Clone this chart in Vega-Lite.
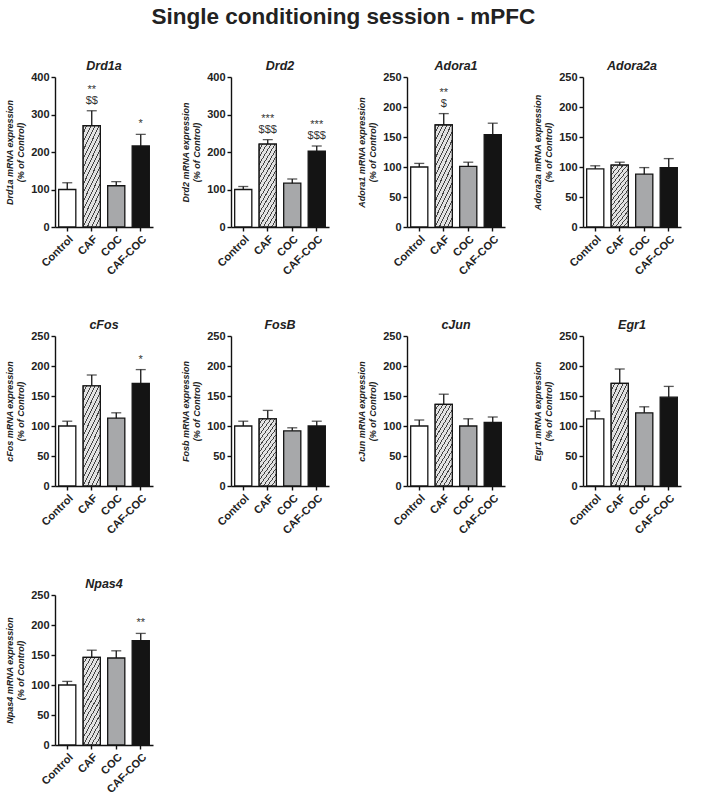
{
  "$schema": "https://vega.github.io/schema/vega-lite/v6.json",
  "title": {"text": "Single conditioning session - mPFC", "fontSize": 22.5, "fontWeight": "bold", "fontStyle": "normal", "font": "Liberation Sans", "color": "#222222", "anchor": "middle", "offset": 31},
  "padding": {"left": 5, "top": 6, "right": 5, "bottom": 5},
  "data": {"values": [
    {"gene": "Drd1a", "group": "Control", "mean": 100, "upper": 118, "top": "", "bottom": ""},
    {"gene": "Drd1a", "group": "CAF", "mean": 270, "upper": 310, "top": "**", "bottom": "$$"},
    {"gene": "Drd1a", "group": "COC", "mean": 110, "upper": 121, "top": "", "bottom": ""},
    {"gene": "Drd1a", "group": "CAF-COC", "mean": 216, "upper": 247, "top": "", "bottom": "*"},
    {"gene": "Drd2", "group": "Control", "mean": 100, "upper": 108, "top": "", "bottom": ""},
    {"gene": "Drd2", "group": "CAF", "mean": 221, "upper": 233, "top": "***", "bottom": "$$$"},
    {"gene": "Drd2", "group": "COC", "mean": 117, "upper": 128, "top": "", "bottom": ""},
    {"gene": "Drd2", "group": "CAF-COC", "mean": 202, "upper": 216, "top": "***", "bottom": "$$$"},
    {"gene": "Adora1", "group": "Control", "mean": 100, "upper": 106, "top": "", "bottom": ""},
    {"gene": "Adora1", "group": "CAF", "mean": 170, "upper": 189, "top": "**", "bottom": "$"},
    {"gene": "Adora1", "group": "COC", "mean": 101, "upper": 108, "top": "", "bottom": ""},
    {"gene": "Adora1", "group": "CAF-COC", "mean": 154, "upper": 173, "top": "", "bottom": ""},
    {"gene": "Adora2a", "group": "Control", "mean": 97, "upper": 102, "top": "", "bottom": ""},
    {"gene": "Adora2a", "group": "CAF", "mean": 103, "upper": 108, "top": "", "bottom": ""},
    {"gene": "Adora2a", "group": "COC", "mean": 88, "upper": 99, "top": "", "bottom": ""},
    {"gene": "Adora2a", "group": "CAF-COC", "mean": 99, "upper": 114, "top": "", "bottom": ""},
    {"gene": "cFos", "group": "Control", "mean": 100, "upper": 108, "top": "", "bottom": ""},
    {"gene": "cFos", "group": "CAF", "mean": 167, "upper": 185, "top": "", "bottom": ""},
    {"gene": "cFos", "group": "COC", "mean": 113, "upper": 122, "top": "", "bottom": ""},
    {"gene": "cFos", "group": "CAF-COC", "mean": 171, "upper": 194, "top": "", "bottom": "*"},
    {"gene": "FosB", "group": "Control", "mean": 100, "upper": 108, "top": "", "bottom": ""},
    {"gene": "FosB", "group": "CAF", "mean": 112, "upper": 126, "top": "", "bottom": ""},
    {"gene": "FosB", "group": "COC", "mean": 92, "upper": 97, "top": "", "bottom": ""},
    {"gene": "FosB", "group": "CAF-COC", "mean": 100, "upper": 108, "top": "", "bottom": ""},
    {"gene": "cJun", "group": "Control", "mean": 100, "upper": 110, "top": "", "bottom": ""},
    {"gene": "cJun", "group": "CAF", "mean": 136, "upper": 153, "top": "", "bottom": ""},
    {"gene": "cJun", "group": "COC", "mean": 100, "upper": 112, "top": "", "bottom": ""},
    {"gene": "cJun", "group": "CAF-COC", "mean": 106, "upper": 115, "top": "", "bottom": ""},
    {"gene": "Egr1", "group": "Control", "mean": 112, "upper": 125, "top": "", "bottom": ""},
    {"gene": "Egr1", "group": "CAF", "mean": 171, "upper": 195, "top": "", "bottom": ""},
    {"gene": "Egr1", "group": "COC", "mean": 122, "upper": 132, "top": "", "bottom": ""},
    {"gene": "Egr1", "group": "CAF-COC", "mean": 148, "upper": 166, "top": "", "bottom": ""},
    {"gene": "Npas4", "group": "Control", "mean": 100, "upper": 106, "top": "", "bottom": ""},
    {"gene": "Npas4", "group": "CAF", "mean": 146, "upper": 158, "top": "", "bottom": ""},
    {"gene": "Npas4", "group": "COC", "mean": 145, "upper": 157, "top": "", "bottom": ""},
    {"gene": "Npas4", "group": "CAF-COC", "mean": 174, "upper": 186, "top": "", "bottom": "**"}
  ]},
  "columns": 4,
  "spacing": {"row": 41, "column": 28},
  "resolve": {"scale": {"y": "independent"}, "axis": {"y": "independent"}},
  "concat": [
    {"title": "Drd1a", "width": 98, "height": 150,
     "transform": [{"filter": "datum.gene === 'Drd1a'"}],
     "encoding": {
       "x": {"field": "group", "type": "nominal", "sort": ["Control", "CAF", "COC", "CAF-COC"], "scale": {"paddingInner": 0.3, "paddingOuter": 0.15}, "title": null},
       "y": {"field": "mean", "type": "quantitative", "scale": {"domain": [0, 400], "nice": false}, "axis": {"values": [0, 100, 200, 300, 400], "title": ["Drd1a mRNA expression", "(% of Control)"]}}
     },
     "layer": [
       {"mark": {"type": "bar", "stroke": "#151515", "strokeWidth": 1.3}, "encoding": {"fill": {"field": "group", "type": "nominal", "scale": {"domain": ["Control", "CAF", "COC", "CAF-COC"], "range": ["#ffffff", "#dcdcdc", "#a7a8aa", "#141414"]}, "legend": null}}},
       {"transform": [{"filter": "datum.group === 'CAF'"}], "mark": {"type": "bar", "stroke": "#151515", "strokeWidth": 1.3, "fill": {"gradient": "linear", "x1": 0, "y1": 0, "x2": 0.42, "y2": 1.2, "stops": [{"offset": 0, "color": "#e2e2e2"}, {"offset": 0.0469, "color": "#e2e2e2"}, {"offset": 0.0469, "color": "#444444"}, {"offset": 0.0625, "color": "#444444"}, {"offset": 0.0625, "color": "#e2e2e2"}, {"offset": 0.1094, "color": "#e2e2e2"}, {"offset": 0.1094, "color": "#444444"}, {"offset": 0.125, "color": "#444444"}, {"offset": 0.125, "color": "#e2e2e2"}, {"offset": 0.1719, "color": "#e2e2e2"}, {"offset": 0.1719, "color": "#444444"}, {"offset": 0.1875, "color": "#444444"}, {"offset": 0.1875, "color": "#e2e2e2"}, {"offset": 0.2344, "color": "#e2e2e2"}, {"offset": 0.2344, "color": "#444444"}, {"offset": 0.25, "color": "#444444"}, {"offset": 0.25, "color": "#e2e2e2"}, {"offset": 0.2969, "color": "#e2e2e2"}, {"offset": 0.2969, "color": "#444444"}, {"offset": 0.3125, "color": "#444444"}, {"offset": 0.3125, "color": "#e2e2e2"}, {"offset": 0.3594, "color": "#e2e2e2"}, {"offset": 0.3594, "color": "#444444"}, {"offset": 0.375, "color": "#444444"}, {"offset": 0.375, "color": "#e2e2e2"}, {"offset": 0.4219, "color": "#e2e2e2"}, {"offset": 0.4219, "color": "#444444"}, {"offset": 0.4375, "color": "#444444"}, {"offset": 0.4375, "color": "#e2e2e2"}, {"offset": 0.4844, "color": "#e2e2e2"}, {"offset": 0.4844, "color": "#444444"}, {"offset": 0.5, "color": "#444444"}, {"offset": 0.5, "color": "#e2e2e2"}, {"offset": 0.5469, "color": "#e2e2e2"}, {"offset": 0.5469, "color": "#444444"}, {"offset": 0.5625, "color": "#444444"}, {"offset": 0.5625, "color": "#e2e2e2"}, {"offset": 0.6094, "color": "#e2e2e2"}, {"offset": 0.6094, "color": "#444444"}, {"offset": 0.625, "color": "#444444"}, {"offset": 0.625, "color": "#e2e2e2"}, {"offset": 0.6719, "color": "#e2e2e2"}, {"offset": 0.6719, "color": "#444444"}, {"offset": 0.6875, "color": "#444444"}, {"offset": 0.6875, "color": "#e2e2e2"}, {"offset": 0.7344, "color": "#e2e2e2"}, {"offset": 0.7344, "color": "#444444"}, {"offset": 0.75, "color": "#444444"}, {"offset": 0.75, "color": "#e2e2e2"}, {"offset": 0.7969, "color": "#e2e2e2"}, {"offset": 0.7969, "color": "#444444"}, {"offset": 0.8125, "color": "#444444"}, {"offset": 0.8125, "color": "#e2e2e2"}, {"offset": 0.8594, "color": "#e2e2e2"}, {"offset": 0.8594, "color": "#444444"}, {"offset": 0.875, "color": "#444444"}, {"offset": 0.875, "color": "#e2e2e2"}, {"offset": 0.9219, "color": "#e2e2e2"}, {"offset": 0.9219, "color": "#444444"}, {"offset": 0.9375, "color": "#444444"}, {"offset": 0.9375, "color": "#e2e2e2"}, {"offset": 0.9844, "color": "#e2e2e2"}, {"offset": 0.9844, "color": "#444444"}, {"offset": 1, "color": "#444444"}]}}},
       {"mark": {"type": "rule", "color": "#151515", "strokeWidth": 1.3}, "encoding": {"y2": {"field": "upper"}}},
       {"mark": {"type": "tick", "color": "#151515", "thickness": 1.3, "size": 10}, "encoding": {"y": {"field": "upper", "type": "quantitative"}}},
       {"transform": [{"filter": "datum.bottom !== ''"}], "mark": {"type": "text", "baseline": "bottom", "dy": -5, "fontSize": 11, "color": "#333333"}, "encoding": {"y": {"field": "upper", "type": "quantitative"}, "text": {"field": "bottom", "type": "nominal"}}},
       {"transform": [{"filter": "datum.top !== ''"}], "mark": {"type": "text", "baseline": "bottom", "dy": -16, "fontSize": 11, "color": "#333333"}, "encoding": {"y": {"field": "upper", "type": "quantitative"}, "text": {"field": "top", "type": "nominal"}}}
     ]},
    {"title": "Drd2", "width": 98, "height": 150,
     "transform": [{"filter": "datum.gene === 'Drd2'"}],
     "encoding": {
       "x": {"field": "group", "type": "nominal", "sort": ["Control", "CAF", "COC", "CAF-COC"], "scale": {"paddingInner": 0.3, "paddingOuter": 0.15}, "title": null},
       "y": {"field": "mean", "type": "quantitative", "scale": {"domain": [0, 400], "nice": false}, "axis": {"values": [0, 100, 200, 300, 400], "title": ["Drd2 mRNA expression", "(% of Control)"]}}
     },
     "layer": [
       {"mark": {"type": "bar", "stroke": "#151515", "strokeWidth": 1.3}, "encoding": {"fill": {"field": "group", "type": "nominal", "scale": {"domain": ["Control", "CAF", "COC", "CAF-COC"], "range": ["#ffffff", "#dcdcdc", "#a7a8aa", "#141414"]}, "legend": null}}},
       {"transform": [{"filter": "datum.group === 'CAF'"}], "mark": {"type": "bar", "stroke": "#151515", "strokeWidth": 1.3, "fill": {"gradient": "linear", "x1": 0, "y1": 0, "x2": 0.42, "y2": 1.2, "stops": [{"offset": 0, "color": "#e2e2e2"}, {"offset": 0.0469, "color": "#e2e2e2"}, {"offset": 0.0469, "color": "#444444"}, {"offset": 0.0625, "color": "#444444"}, {"offset": 0.0625, "color": "#e2e2e2"}, {"offset": 0.1094, "color": "#e2e2e2"}, {"offset": 0.1094, "color": "#444444"}, {"offset": 0.125, "color": "#444444"}, {"offset": 0.125, "color": "#e2e2e2"}, {"offset": 0.1719, "color": "#e2e2e2"}, {"offset": 0.1719, "color": "#444444"}, {"offset": 0.1875, "color": "#444444"}, {"offset": 0.1875, "color": "#e2e2e2"}, {"offset": 0.2344, "color": "#e2e2e2"}, {"offset": 0.2344, "color": "#444444"}, {"offset": 0.25, "color": "#444444"}, {"offset": 0.25, "color": "#e2e2e2"}, {"offset": 0.2969, "color": "#e2e2e2"}, {"offset": 0.2969, "color": "#444444"}, {"offset": 0.3125, "color": "#444444"}, {"offset": 0.3125, "color": "#e2e2e2"}, {"offset": 0.3594, "color": "#e2e2e2"}, {"offset": 0.3594, "color": "#444444"}, {"offset": 0.375, "color": "#444444"}, {"offset": 0.375, "color": "#e2e2e2"}, {"offset": 0.4219, "color": "#e2e2e2"}, {"offset": 0.4219, "color": "#444444"}, {"offset": 0.4375, "color": "#444444"}, {"offset": 0.4375, "color": "#e2e2e2"}, {"offset": 0.4844, "color": "#e2e2e2"}, {"offset": 0.4844, "color": "#444444"}, {"offset": 0.5, "color": "#444444"}, {"offset": 0.5, "color": "#e2e2e2"}, {"offset": 0.5469, "color": "#e2e2e2"}, {"offset": 0.5469, "color": "#444444"}, {"offset": 0.5625, "color": "#444444"}, {"offset": 0.5625, "color": "#e2e2e2"}, {"offset": 0.6094, "color": "#e2e2e2"}, {"offset": 0.6094, "color": "#444444"}, {"offset": 0.625, "color": "#444444"}, {"offset": 0.625, "color": "#e2e2e2"}, {"offset": 0.6719, "color": "#e2e2e2"}, {"offset": 0.6719, "color": "#444444"}, {"offset": 0.6875, "color": "#444444"}, {"offset": 0.6875, "color": "#e2e2e2"}, {"offset": 0.7344, "color": "#e2e2e2"}, {"offset": 0.7344, "color": "#444444"}, {"offset": 0.75, "color": "#444444"}, {"offset": 0.75, "color": "#e2e2e2"}, {"offset": 0.7969, "color": "#e2e2e2"}, {"offset": 0.7969, "color": "#444444"}, {"offset": 0.8125, "color": "#444444"}, {"offset": 0.8125, "color": "#e2e2e2"}, {"offset": 0.8594, "color": "#e2e2e2"}, {"offset": 0.8594, "color": "#444444"}, {"offset": 0.875, "color": "#444444"}, {"offset": 0.875, "color": "#e2e2e2"}, {"offset": 0.9219, "color": "#e2e2e2"}, {"offset": 0.9219, "color": "#444444"}, {"offset": 0.9375, "color": "#444444"}, {"offset": 0.9375, "color": "#e2e2e2"}, {"offset": 0.9844, "color": "#e2e2e2"}, {"offset": 0.9844, "color": "#444444"}, {"offset": 1, "color": "#444444"}]}}},
       {"mark": {"type": "rule", "color": "#151515", "strokeWidth": 1.3}, "encoding": {"y2": {"field": "upper"}}},
       {"mark": {"type": "tick", "color": "#151515", "thickness": 1.3, "size": 10}, "encoding": {"y": {"field": "upper", "type": "quantitative"}}},
       {"transform": [{"filter": "datum.bottom !== ''"}], "mark": {"type": "text", "baseline": "bottom", "dy": -5, "fontSize": 11, "color": "#333333"}, "encoding": {"y": {"field": "upper", "type": "quantitative"}, "text": {"field": "bottom", "type": "nominal"}}},
       {"transform": [{"filter": "datum.top !== ''"}], "mark": {"type": "text", "baseline": "bottom", "dy": -16, "fontSize": 11, "color": "#333333"}, "encoding": {"y": {"field": "upper", "type": "quantitative"}, "text": {"field": "top", "type": "nominal"}}}
     ]},
    {"title": "Adora1", "width": 98, "height": 150,
     "transform": [{"filter": "datum.gene === 'Adora1'"}],
     "encoding": {
       "x": {"field": "group", "type": "nominal", "sort": ["Control", "CAF", "COC", "CAF-COC"], "scale": {"paddingInner": 0.3, "paddingOuter": 0.15}, "title": null},
       "y": {"field": "mean", "type": "quantitative", "scale": {"domain": [0, 250], "nice": false}, "axis": {"values": [0, 50, 100, 150, 200, 250], "title": ["Adora1 mRNA expression", "(% of Control)"]}}
     },
     "layer": [
       {"mark": {"type": "bar", "stroke": "#151515", "strokeWidth": 1.3}, "encoding": {"fill": {"field": "group", "type": "nominal", "scale": {"domain": ["Control", "CAF", "COC", "CAF-COC"], "range": ["#ffffff", "#dcdcdc", "#a7a8aa", "#141414"]}, "legend": null}}},
       {"transform": [{"filter": "datum.group === 'CAF'"}], "mark": {"type": "bar", "stroke": "#151515", "strokeWidth": 1.3, "fill": {"gradient": "linear", "x1": 0, "y1": 0, "x2": 0.42, "y2": 1.2, "stops": [{"offset": 0, "color": "#e2e2e2"}, {"offset": 0.0469, "color": "#e2e2e2"}, {"offset": 0.0469, "color": "#444444"}, {"offset": 0.0625, "color": "#444444"}, {"offset": 0.0625, "color": "#e2e2e2"}, {"offset": 0.1094, "color": "#e2e2e2"}, {"offset": 0.1094, "color": "#444444"}, {"offset": 0.125, "color": "#444444"}, {"offset": 0.125, "color": "#e2e2e2"}, {"offset": 0.1719, "color": "#e2e2e2"}, {"offset": 0.1719, "color": "#444444"}, {"offset": 0.1875, "color": "#444444"}, {"offset": 0.1875, "color": "#e2e2e2"}, {"offset": 0.2344, "color": "#e2e2e2"}, {"offset": 0.2344, "color": "#444444"}, {"offset": 0.25, "color": "#444444"}, {"offset": 0.25, "color": "#e2e2e2"}, {"offset": 0.2969, "color": "#e2e2e2"}, {"offset": 0.2969, "color": "#444444"}, {"offset": 0.3125, "color": "#444444"}, {"offset": 0.3125, "color": "#e2e2e2"}, {"offset": 0.3594, "color": "#e2e2e2"}, {"offset": 0.3594, "color": "#444444"}, {"offset": 0.375, "color": "#444444"}, {"offset": 0.375, "color": "#e2e2e2"}, {"offset": 0.4219, "color": "#e2e2e2"}, {"offset": 0.4219, "color": "#444444"}, {"offset": 0.4375, "color": "#444444"}, {"offset": 0.4375, "color": "#e2e2e2"}, {"offset": 0.4844, "color": "#e2e2e2"}, {"offset": 0.4844, "color": "#444444"}, {"offset": 0.5, "color": "#444444"}, {"offset": 0.5, "color": "#e2e2e2"}, {"offset": 0.5469, "color": "#e2e2e2"}, {"offset": 0.5469, "color": "#444444"}, {"offset": 0.5625, "color": "#444444"}, {"offset": 0.5625, "color": "#e2e2e2"}, {"offset": 0.6094, "color": "#e2e2e2"}, {"offset": 0.6094, "color": "#444444"}, {"offset": 0.625, "color": "#444444"}, {"offset": 0.625, "color": "#e2e2e2"}, {"offset": 0.6719, "color": "#e2e2e2"}, {"offset": 0.6719, "color": "#444444"}, {"offset": 0.6875, "color": "#444444"}, {"offset": 0.6875, "color": "#e2e2e2"}, {"offset": 0.7344, "color": "#e2e2e2"}, {"offset": 0.7344, "color": "#444444"}, {"offset": 0.75, "color": "#444444"}, {"offset": 0.75, "color": "#e2e2e2"}, {"offset": 0.7969, "color": "#e2e2e2"}, {"offset": 0.7969, "color": "#444444"}, {"offset": 0.8125, "color": "#444444"}, {"offset": 0.8125, "color": "#e2e2e2"}, {"offset": 0.8594, "color": "#e2e2e2"}, {"offset": 0.8594, "color": "#444444"}, {"offset": 0.875, "color": "#444444"}, {"offset": 0.875, "color": "#e2e2e2"}, {"offset": 0.9219, "color": "#e2e2e2"}, {"offset": 0.9219, "color": "#444444"}, {"offset": 0.9375, "color": "#444444"}, {"offset": 0.9375, "color": "#e2e2e2"}, {"offset": 0.9844, "color": "#e2e2e2"}, {"offset": 0.9844, "color": "#444444"}, {"offset": 1, "color": "#444444"}]}}},
       {"mark": {"type": "rule", "color": "#151515", "strokeWidth": 1.3}, "encoding": {"y2": {"field": "upper"}}},
       {"mark": {"type": "tick", "color": "#151515", "thickness": 1.3, "size": 10}, "encoding": {"y": {"field": "upper", "type": "quantitative"}}},
       {"transform": [{"filter": "datum.bottom !== ''"}], "mark": {"type": "text", "baseline": "bottom", "dy": -5, "fontSize": 11, "color": "#333333"}, "encoding": {"y": {"field": "upper", "type": "quantitative"}, "text": {"field": "bottom", "type": "nominal"}}},
       {"transform": [{"filter": "datum.top !== ''"}], "mark": {"type": "text", "baseline": "bottom", "dy": -16, "fontSize": 11, "color": "#333333"}, "encoding": {"y": {"field": "upper", "type": "quantitative"}, "text": {"field": "top", "type": "nominal"}}}
     ]},
    {"title": "Adora2a", "width": 98, "height": 150,
     "transform": [{"filter": "datum.gene === 'Adora2a'"}],
     "encoding": {
       "x": {"field": "group", "type": "nominal", "sort": ["Control", "CAF", "COC", "CAF-COC"], "scale": {"paddingInner": 0.3, "paddingOuter": 0.15}, "title": null},
       "y": {"field": "mean", "type": "quantitative", "scale": {"domain": [0, 250], "nice": false}, "axis": {"values": [0, 50, 100, 150, 200, 250], "title": ["Adora2a mRNA expression", "(% of Control)"]}}
     },
     "layer": [
       {"mark": {"type": "bar", "stroke": "#151515", "strokeWidth": 1.3}, "encoding": {"fill": {"field": "group", "type": "nominal", "scale": {"domain": ["Control", "CAF", "COC", "CAF-COC"], "range": ["#ffffff", "#dcdcdc", "#a7a8aa", "#141414"]}, "legend": null}}},
       {"transform": [{"filter": "datum.group === 'CAF'"}], "mark": {"type": "bar", "stroke": "#151515", "strokeWidth": 1.3, "fill": {"gradient": "linear", "x1": 0, "y1": 0, "x2": 0.42, "y2": 1.2, "stops": [{"offset": 0, "color": "#e2e2e2"}, {"offset": 0.0469, "color": "#e2e2e2"}, {"offset": 0.0469, "color": "#444444"}, {"offset": 0.0625, "color": "#444444"}, {"offset": 0.0625, "color": "#e2e2e2"}, {"offset": 0.1094, "color": "#e2e2e2"}, {"offset": 0.1094, "color": "#444444"}, {"offset": 0.125, "color": "#444444"}, {"offset": 0.125, "color": "#e2e2e2"}, {"offset": 0.1719, "color": "#e2e2e2"}, {"offset": 0.1719, "color": "#444444"}, {"offset": 0.1875, "color": "#444444"}, {"offset": 0.1875, "color": "#e2e2e2"}, {"offset": 0.2344, "color": "#e2e2e2"}, {"offset": 0.2344, "color": "#444444"}, {"offset": 0.25, "color": "#444444"}, {"offset": 0.25, "color": "#e2e2e2"}, {"offset": 0.2969, "color": "#e2e2e2"}, {"offset": 0.2969, "color": "#444444"}, {"offset": 0.3125, "color": "#444444"}, {"offset": 0.3125, "color": "#e2e2e2"}, {"offset": 0.3594, "color": "#e2e2e2"}, {"offset": 0.3594, "color": "#444444"}, {"offset": 0.375, "color": "#444444"}, {"offset": 0.375, "color": "#e2e2e2"}, {"offset": 0.4219, "color": "#e2e2e2"}, {"offset": 0.4219, "color": "#444444"}, {"offset": 0.4375, "color": "#444444"}, {"offset": 0.4375, "color": "#e2e2e2"}, {"offset": 0.4844, "color": "#e2e2e2"}, {"offset": 0.4844, "color": "#444444"}, {"offset": 0.5, "color": "#444444"}, {"offset": 0.5, "color": "#e2e2e2"}, {"offset": 0.5469, "color": "#e2e2e2"}, {"offset": 0.5469, "color": "#444444"}, {"offset": 0.5625, "color": "#444444"}, {"offset": 0.5625, "color": "#e2e2e2"}, {"offset": 0.6094, "color": "#e2e2e2"}, {"offset": 0.6094, "color": "#444444"}, {"offset": 0.625, "color": "#444444"}, {"offset": 0.625, "color": "#e2e2e2"}, {"offset": 0.6719, "color": "#e2e2e2"}, {"offset": 0.6719, "color": "#444444"}, {"offset": 0.6875, "color": "#444444"}, {"offset": 0.6875, "color": "#e2e2e2"}, {"offset": 0.7344, "color": "#e2e2e2"}, {"offset": 0.7344, "color": "#444444"}, {"offset": 0.75, "color": "#444444"}, {"offset": 0.75, "color": "#e2e2e2"}, {"offset": 0.7969, "color": "#e2e2e2"}, {"offset": 0.7969, "color": "#444444"}, {"offset": 0.8125, "color": "#444444"}, {"offset": 0.8125, "color": "#e2e2e2"}, {"offset": 0.8594, "color": "#e2e2e2"}, {"offset": 0.8594, "color": "#444444"}, {"offset": 0.875, "color": "#444444"}, {"offset": 0.875, "color": "#e2e2e2"}, {"offset": 0.9219, "color": "#e2e2e2"}, {"offset": 0.9219, "color": "#444444"}, {"offset": 0.9375, "color": "#444444"}, {"offset": 0.9375, "color": "#e2e2e2"}, {"offset": 0.9844, "color": "#e2e2e2"}, {"offset": 0.9844, "color": "#444444"}, {"offset": 1, "color": "#444444"}]}}},
       {"mark": {"type": "rule", "color": "#151515", "strokeWidth": 1.3}, "encoding": {"y2": {"field": "upper"}}},
       {"mark": {"type": "tick", "color": "#151515", "thickness": 1.3, "size": 10}, "encoding": {"y": {"field": "upper", "type": "quantitative"}}}
     ]},
    {"title": "cFos", "width": 98, "height": 150,
     "transform": [{"filter": "datum.gene === 'cFos'"}],
     "encoding": {
       "x": {"field": "group", "type": "nominal", "sort": ["Control", "CAF", "COC", "CAF-COC"], "scale": {"paddingInner": 0.3, "paddingOuter": 0.15}, "title": null},
       "y": {"field": "mean", "type": "quantitative", "scale": {"domain": [0, 250], "nice": false}, "axis": {"values": [0, 50, 100, 150, 200, 250], "title": ["cFos mRNA expression", "(% of Control)"]}}
     },
     "layer": [
       {"mark": {"type": "bar", "stroke": "#151515", "strokeWidth": 1.3}, "encoding": {"fill": {"field": "group", "type": "nominal", "scale": {"domain": ["Control", "CAF", "COC", "CAF-COC"], "range": ["#ffffff", "#dcdcdc", "#a7a8aa", "#141414"]}, "legend": null}}},
       {"transform": [{"filter": "datum.group === 'CAF'"}], "mark": {"type": "bar", "stroke": "#151515", "strokeWidth": 1.3, "fill": {"gradient": "linear", "x1": 0, "y1": 0, "x2": 0.42, "y2": 1.2, "stops": [{"offset": 0, "color": "#e2e2e2"}, {"offset": 0.0469, "color": "#e2e2e2"}, {"offset": 0.0469, "color": "#444444"}, {"offset": 0.0625, "color": "#444444"}, {"offset": 0.0625, "color": "#e2e2e2"}, {"offset": 0.1094, "color": "#e2e2e2"}, {"offset": 0.1094, "color": "#444444"}, {"offset": 0.125, "color": "#444444"}, {"offset": 0.125, "color": "#e2e2e2"}, {"offset": 0.1719, "color": "#e2e2e2"}, {"offset": 0.1719, "color": "#444444"}, {"offset": 0.1875, "color": "#444444"}, {"offset": 0.1875, "color": "#e2e2e2"}, {"offset": 0.2344, "color": "#e2e2e2"}, {"offset": 0.2344, "color": "#444444"}, {"offset": 0.25, "color": "#444444"}, {"offset": 0.25, "color": "#e2e2e2"}, {"offset": 0.2969, "color": "#e2e2e2"}, {"offset": 0.2969, "color": "#444444"}, {"offset": 0.3125, "color": "#444444"}, {"offset": 0.3125, "color": "#e2e2e2"}, {"offset": 0.3594, "color": "#e2e2e2"}, {"offset": 0.3594, "color": "#444444"}, {"offset": 0.375, "color": "#444444"}, {"offset": 0.375, "color": "#e2e2e2"}, {"offset": 0.4219, "color": "#e2e2e2"}, {"offset": 0.4219, "color": "#444444"}, {"offset": 0.4375, "color": "#444444"}, {"offset": 0.4375, "color": "#e2e2e2"}, {"offset": 0.4844, "color": "#e2e2e2"}, {"offset": 0.4844, "color": "#444444"}, {"offset": 0.5, "color": "#444444"}, {"offset": 0.5, "color": "#e2e2e2"}, {"offset": 0.5469, "color": "#e2e2e2"}, {"offset": 0.5469, "color": "#444444"}, {"offset": 0.5625, "color": "#444444"}, {"offset": 0.5625, "color": "#e2e2e2"}, {"offset": 0.6094, "color": "#e2e2e2"}, {"offset": 0.6094, "color": "#444444"}, {"offset": 0.625, "color": "#444444"}, {"offset": 0.625, "color": "#e2e2e2"}, {"offset": 0.6719, "color": "#e2e2e2"}, {"offset": 0.6719, "color": "#444444"}, {"offset": 0.6875, "color": "#444444"}, {"offset": 0.6875, "color": "#e2e2e2"}, {"offset": 0.7344, "color": "#e2e2e2"}, {"offset": 0.7344, "color": "#444444"}, {"offset": 0.75, "color": "#444444"}, {"offset": 0.75, "color": "#e2e2e2"}, {"offset": 0.7969, "color": "#e2e2e2"}, {"offset": 0.7969, "color": "#444444"}, {"offset": 0.8125, "color": "#444444"}, {"offset": 0.8125, "color": "#e2e2e2"}, {"offset": 0.8594, "color": "#e2e2e2"}, {"offset": 0.8594, "color": "#444444"}, {"offset": 0.875, "color": "#444444"}, {"offset": 0.875, "color": "#e2e2e2"}, {"offset": 0.9219, "color": "#e2e2e2"}, {"offset": 0.9219, "color": "#444444"}, {"offset": 0.9375, "color": "#444444"}, {"offset": 0.9375, "color": "#e2e2e2"}, {"offset": 0.9844, "color": "#e2e2e2"}, {"offset": 0.9844, "color": "#444444"}, {"offset": 1, "color": "#444444"}]}}},
       {"mark": {"type": "rule", "color": "#151515", "strokeWidth": 1.3}, "encoding": {"y2": {"field": "upper"}}},
       {"mark": {"type": "tick", "color": "#151515", "thickness": 1.3, "size": 10}, "encoding": {"y": {"field": "upper", "type": "quantitative"}}},
       {"transform": [{"filter": "datum.bottom !== ''"}], "mark": {"type": "text", "baseline": "bottom", "dy": -5, "fontSize": 11, "color": "#333333"}, "encoding": {"y": {"field": "upper", "type": "quantitative"}, "text": {"field": "bottom", "type": "nominal"}}}
     ]},
    {"title": "FosB", "width": 98, "height": 150,
     "transform": [{"filter": "datum.gene === 'FosB'"}],
     "encoding": {
       "x": {"field": "group", "type": "nominal", "sort": ["Control", "CAF", "COC", "CAF-COC"], "scale": {"paddingInner": 0.3, "paddingOuter": 0.15}, "title": null},
       "y": {"field": "mean", "type": "quantitative", "scale": {"domain": [0, 250], "nice": false}, "axis": {"values": [0, 50, 100, 150, 200, 250], "title": ["Fosb mRNA expression", "(% of Control)"]}}
     },
     "layer": [
       {"mark": {"type": "bar", "stroke": "#151515", "strokeWidth": 1.3}, "encoding": {"fill": {"field": "group", "type": "nominal", "scale": {"domain": ["Control", "CAF", "COC", "CAF-COC"], "range": ["#ffffff", "#dcdcdc", "#a7a8aa", "#141414"]}, "legend": null}}},
       {"transform": [{"filter": "datum.group === 'CAF'"}], "mark": {"type": "bar", "stroke": "#151515", "strokeWidth": 1.3, "fill": {"gradient": "linear", "x1": 0, "y1": 0, "x2": 0.42, "y2": 1.2, "stops": [{"offset": 0, "color": "#e2e2e2"}, {"offset": 0.0469, "color": "#e2e2e2"}, {"offset": 0.0469, "color": "#444444"}, {"offset": 0.0625, "color": "#444444"}, {"offset": 0.0625, "color": "#e2e2e2"}, {"offset": 0.1094, "color": "#e2e2e2"}, {"offset": 0.1094, "color": "#444444"}, {"offset": 0.125, "color": "#444444"}, {"offset": 0.125, "color": "#e2e2e2"}, {"offset": 0.1719, "color": "#e2e2e2"}, {"offset": 0.1719, "color": "#444444"}, {"offset": 0.1875, "color": "#444444"}, {"offset": 0.1875, "color": "#e2e2e2"}, {"offset": 0.2344, "color": "#e2e2e2"}, {"offset": 0.2344, "color": "#444444"}, {"offset": 0.25, "color": "#444444"}, {"offset": 0.25, "color": "#e2e2e2"}, {"offset": 0.2969, "color": "#e2e2e2"}, {"offset": 0.2969, "color": "#444444"}, {"offset": 0.3125, "color": "#444444"}, {"offset": 0.3125, "color": "#e2e2e2"}, {"offset": 0.3594, "color": "#e2e2e2"}, {"offset": 0.3594, "color": "#444444"}, {"offset": 0.375, "color": "#444444"}, {"offset": 0.375, "color": "#e2e2e2"}, {"offset": 0.4219, "color": "#e2e2e2"}, {"offset": 0.4219, "color": "#444444"}, {"offset": 0.4375, "color": "#444444"}, {"offset": 0.4375, "color": "#e2e2e2"}, {"offset": 0.4844, "color": "#e2e2e2"}, {"offset": 0.4844, "color": "#444444"}, {"offset": 0.5, "color": "#444444"}, {"offset": 0.5, "color": "#e2e2e2"}, {"offset": 0.5469, "color": "#e2e2e2"}, {"offset": 0.5469, "color": "#444444"}, {"offset": 0.5625, "color": "#444444"}, {"offset": 0.5625, "color": "#e2e2e2"}, {"offset": 0.6094, "color": "#e2e2e2"}, {"offset": 0.6094, "color": "#444444"}, {"offset": 0.625, "color": "#444444"}, {"offset": 0.625, "color": "#e2e2e2"}, {"offset": 0.6719, "color": "#e2e2e2"}, {"offset": 0.6719, "color": "#444444"}, {"offset": 0.6875, "color": "#444444"}, {"offset": 0.6875, "color": "#e2e2e2"}, {"offset": 0.7344, "color": "#e2e2e2"}, {"offset": 0.7344, "color": "#444444"}, {"offset": 0.75, "color": "#444444"}, {"offset": 0.75, "color": "#e2e2e2"}, {"offset": 0.7969, "color": "#e2e2e2"}, {"offset": 0.7969, "color": "#444444"}, {"offset": 0.8125, "color": "#444444"}, {"offset": 0.8125, "color": "#e2e2e2"}, {"offset": 0.8594, "color": "#e2e2e2"}, {"offset": 0.8594, "color": "#444444"}, {"offset": 0.875, "color": "#444444"}, {"offset": 0.875, "color": "#e2e2e2"}, {"offset": 0.9219, "color": "#e2e2e2"}, {"offset": 0.9219, "color": "#444444"}, {"offset": 0.9375, "color": "#444444"}, {"offset": 0.9375, "color": "#e2e2e2"}, {"offset": 0.9844, "color": "#e2e2e2"}, {"offset": 0.9844, "color": "#444444"}, {"offset": 1, "color": "#444444"}]}}},
       {"mark": {"type": "rule", "color": "#151515", "strokeWidth": 1.3}, "encoding": {"y2": {"field": "upper"}}},
       {"mark": {"type": "tick", "color": "#151515", "thickness": 1.3, "size": 10}, "encoding": {"y": {"field": "upper", "type": "quantitative"}}}
     ]},
    {"title": "cJun", "width": 98, "height": 150,
     "transform": [{"filter": "datum.gene === 'cJun'"}],
     "encoding": {
       "x": {"field": "group", "type": "nominal", "sort": ["Control", "CAF", "COC", "CAF-COC"], "scale": {"paddingInner": 0.3, "paddingOuter": 0.15}, "title": null},
       "y": {"field": "mean", "type": "quantitative", "scale": {"domain": [0, 250], "nice": false}, "axis": {"values": [0, 50, 100, 150, 200, 250], "title": ["cJun mRNA expression", "(% of Control)"]}}
     },
     "layer": [
       {"mark": {"type": "bar", "stroke": "#151515", "strokeWidth": 1.3}, "encoding": {"fill": {"field": "group", "type": "nominal", "scale": {"domain": ["Control", "CAF", "COC", "CAF-COC"], "range": ["#ffffff", "#dcdcdc", "#a7a8aa", "#141414"]}, "legend": null}}},
       {"transform": [{"filter": "datum.group === 'CAF'"}], "mark": {"type": "bar", "stroke": "#151515", "strokeWidth": 1.3, "fill": {"gradient": "linear", "x1": 0, "y1": 0, "x2": 0.42, "y2": 1.2, "stops": [{"offset": 0, "color": "#e2e2e2"}, {"offset": 0.0469, "color": "#e2e2e2"}, {"offset": 0.0469, "color": "#444444"}, {"offset": 0.0625, "color": "#444444"}, {"offset": 0.0625, "color": "#e2e2e2"}, {"offset": 0.1094, "color": "#e2e2e2"}, {"offset": 0.1094, "color": "#444444"}, {"offset": 0.125, "color": "#444444"}, {"offset": 0.125, "color": "#e2e2e2"}, {"offset": 0.1719, "color": "#e2e2e2"}, {"offset": 0.1719, "color": "#444444"}, {"offset": 0.1875, "color": "#444444"}, {"offset": 0.1875, "color": "#e2e2e2"}, {"offset": 0.2344, "color": "#e2e2e2"}, {"offset": 0.2344, "color": "#444444"}, {"offset": 0.25, "color": "#444444"}, {"offset": 0.25, "color": "#e2e2e2"}, {"offset": 0.2969, "color": "#e2e2e2"}, {"offset": 0.2969, "color": "#444444"}, {"offset": 0.3125, "color": "#444444"}, {"offset": 0.3125, "color": "#e2e2e2"}, {"offset": 0.3594, "color": "#e2e2e2"}, {"offset": 0.3594, "color": "#444444"}, {"offset": 0.375, "color": "#444444"}, {"offset": 0.375, "color": "#e2e2e2"}, {"offset": 0.4219, "color": "#e2e2e2"}, {"offset": 0.4219, "color": "#444444"}, {"offset": 0.4375, "color": "#444444"}, {"offset": 0.4375, "color": "#e2e2e2"}, {"offset": 0.4844, "color": "#e2e2e2"}, {"offset": 0.4844, "color": "#444444"}, {"offset": 0.5, "color": "#444444"}, {"offset": 0.5, "color": "#e2e2e2"}, {"offset": 0.5469, "color": "#e2e2e2"}, {"offset": 0.5469, "color": "#444444"}, {"offset": 0.5625, "color": "#444444"}, {"offset": 0.5625, "color": "#e2e2e2"}, {"offset": 0.6094, "color": "#e2e2e2"}, {"offset": 0.6094, "color": "#444444"}, {"offset": 0.625, "color": "#444444"}, {"offset": 0.625, "color": "#e2e2e2"}, {"offset": 0.6719, "color": "#e2e2e2"}, {"offset": 0.6719, "color": "#444444"}, {"offset": 0.6875, "color": "#444444"}, {"offset": 0.6875, "color": "#e2e2e2"}, {"offset": 0.7344, "color": "#e2e2e2"}, {"offset": 0.7344, "color": "#444444"}, {"offset": 0.75, "color": "#444444"}, {"offset": 0.75, "color": "#e2e2e2"}, {"offset": 0.7969, "color": "#e2e2e2"}, {"offset": 0.7969, "color": "#444444"}, {"offset": 0.8125, "color": "#444444"}, {"offset": 0.8125, "color": "#e2e2e2"}, {"offset": 0.8594, "color": "#e2e2e2"}, {"offset": 0.8594, "color": "#444444"}, {"offset": 0.875, "color": "#444444"}, {"offset": 0.875, "color": "#e2e2e2"}, {"offset": 0.9219, "color": "#e2e2e2"}, {"offset": 0.9219, "color": "#444444"}, {"offset": 0.9375, "color": "#444444"}, {"offset": 0.9375, "color": "#e2e2e2"}, {"offset": 0.9844, "color": "#e2e2e2"}, {"offset": 0.9844, "color": "#444444"}, {"offset": 1, "color": "#444444"}]}}},
       {"mark": {"type": "rule", "color": "#151515", "strokeWidth": 1.3}, "encoding": {"y2": {"field": "upper"}}},
       {"mark": {"type": "tick", "color": "#151515", "thickness": 1.3, "size": 10}, "encoding": {"y": {"field": "upper", "type": "quantitative"}}}
     ]},
    {"title": "Egr1", "width": 98, "height": 150,
     "transform": [{"filter": "datum.gene === 'Egr1'"}],
     "encoding": {
       "x": {"field": "group", "type": "nominal", "sort": ["Control", "CAF", "COC", "CAF-COC"], "scale": {"paddingInner": 0.3, "paddingOuter": 0.15}, "title": null},
       "y": {"field": "mean", "type": "quantitative", "scale": {"domain": [0, 250], "nice": false}, "axis": {"values": [0, 50, 100, 150, 200, 250], "title": ["Egr1 mRNA expression", "(% of Control)"]}}
     },
     "layer": [
       {"mark": {"type": "bar", "stroke": "#151515", "strokeWidth": 1.3}, "encoding": {"fill": {"field": "group", "type": "nominal", "scale": {"domain": ["Control", "CAF", "COC", "CAF-COC"], "range": ["#ffffff", "#dcdcdc", "#a7a8aa", "#141414"]}, "legend": null}}},
       {"transform": [{"filter": "datum.group === 'CAF'"}], "mark": {"type": "bar", "stroke": "#151515", "strokeWidth": 1.3, "fill": {"gradient": "linear", "x1": 0, "y1": 0, "x2": 0.42, "y2": 1.2, "stops": [{"offset": 0, "color": "#e2e2e2"}, {"offset": 0.0469, "color": "#e2e2e2"}, {"offset": 0.0469, "color": "#444444"}, {"offset": 0.0625, "color": "#444444"}, {"offset": 0.0625, "color": "#e2e2e2"}, {"offset": 0.1094, "color": "#e2e2e2"}, {"offset": 0.1094, "color": "#444444"}, {"offset": 0.125, "color": "#444444"}, {"offset": 0.125, "color": "#e2e2e2"}, {"offset": 0.1719, "color": "#e2e2e2"}, {"offset": 0.1719, "color": "#444444"}, {"offset": 0.1875, "color": "#444444"}, {"offset": 0.1875, "color": "#e2e2e2"}, {"offset": 0.2344, "color": "#e2e2e2"}, {"offset": 0.2344, "color": "#444444"}, {"offset": 0.25, "color": "#444444"}, {"offset": 0.25, "color": "#e2e2e2"}, {"offset": 0.2969, "color": "#e2e2e2"}, {"offset": 0.2969, "color": "#444444"}, {"offset": 0.3125, "color": "#444444"}, {"offset": 0.3125, "color": "#e2e2e2"}, {"offset": 0.3594, "color": "#e2e2e2"}, {"offset": 0.3594, "color": "#444444"}, {"offset": 0.375, "color": "#444444"}, {"offset": 0.375, "color": "#e2e2e2"}, {"offset": 0.4219, "color": "#e2e2e2"}, {"offset": 0.4219, "color": "#444444"}, {"offset": 0.4375, "color": "#444444"}, {"offset": 0.4375, "color": "#e2e2e2"}, {"offset": 0.4844, "color": "#e2e2e2"}, {"offset": 0.4844, "color": "#444444"}, {"offset": 0.5, "color": "#444444"}, {"offset": 0.5, "color": "#e2e2e2"}, {"offset": 0.5469, "color": "#e2e2e2"}, {"offset": 0.5469, "color": "#444444"}, {"offset": 0.5625, "color": "#444444"}, {"offset": 0.5625, "color": "#e2e2e2"}, {"offset": 0.6094, "color": "#e2e2e2"}, {"offset": 0.6094, "color": "#444444"}, {"offset": 0.625, "color": "#444444"}, {"offset": 0.625, "color": "#e2e2e2"}, {"offset": 0.6719, "color": "#e2e2e2"}, {"offset": 0.6719, "color": "#444444"}, {"offset": 0.6875, "color": "#444444"}, {"offset": 0.6875, "color": "#e2e2e2"}, {"offset": 0.7344, "color": "#e2e2e2"}, {"offset": 0.7344, "color": "#444444"}, {"offset": 0.75, "color": "#444444"}, {"offset": 0.75, "color": "#e2e2e2"}, {"offset": 0.7969, "color": "#e2e2e2"}, {"offset": 0.7969, "color": "#444444"}, {"offset": 0.8125, "color": "#444444"}, {"offset": 0.8125, "color": "#e2e2e2"}, {"offset": 0.8594, "color": "#e2e2e2"}, {"offset": 0.8594, "color": "#444444"}, {"offset": 0.875, "color": "#444444"}, {"offset": 0.875, "color": "#e2e2e2"}, {"offset": 0.9219, "color": "#e2e2e2"}, {"offset": 0.9219, "color": "#444444"}, {"offset": 0.9375, "color": "#444444"}, {"offset": 0.9375, "color": "#e2e2e2"}, {"offset": 0.9844, "color": "#e2e2e2"}, {"offset": 0.9844, "color": "#444444"}, {"offset": 1, "color": "#444444"}]}}},
       {"mark": {"type": "rule", "color": "#151515", "strokeWidth": 1.3}, "encoding": {"y2": {"field": "upper"}}},
       {"mark": {"type": "tick", "color": "#151515", "thickness": 1.3, "size": 10}, "encoding": {"y": {"field": "upper", "type": "quantitative"}}}
     ]},
    {"title": "Npas4", "width": 98, "height": 150,
     "transform": [{"filter": "datum.gene === 'Npas4'"}],
     "encoding": {
       "x": {"field": "group", "type": "nominal", "sort": ["Control", "CAF", "COC", "CAF-COC"], "scale": {"paddingInner": 0.3, "paddingOuter": 0.15}, "title": null},
       "y": {"field": "mean", "type": "quantitative", "scale": {"domain": [0, 250], "nice": false}, "axis": {"values": [0, 50, 100, 150, 200, 250], "title": ["Npas4 mRNA expression", "(% of Control)"]}}
     },
     "layer": [
       {"mark": {"type": "bar", "stroke": "#151515", "strokeWidth": 1.3}, "encoding": {"fill": {"field": "group", "type": "nominal", "scale": {"domain": ["Control", "CAF", "COC", "CAF-COC"], "range": ["#ffffff", "#dcdcdc", "#a7a8aa", "#141414"]}, "legend": null}}},
       {"transform": [{"filter": "datum.group === 'CAF'"}], "mark": {"type": "bar", "stroke": "#151515", "strokeWidth": 1.3, "fill": {"gradient": "linear", "x1": 0, "y1": 0, "x2": 0.42, "y2": 1.2, "stops": [{"offset": 0, "color": "#e2e2e2"}, {"offset": 0.0469, "color": "#e2e2e2"}, {"offset": 0.0469, "color": "#444444"}, {"offset": 0.0625, "color": "#444444"}, {"offset": 0.0625, "color": "#e2e2e2"}, {"offset": 0.1094, "color": "#e2e2e2"}, {"offset": 0.1094, "color": "#444444"}, {"offset": 0.125, "color": "#444444"}, {"offset": 0.125, "color": "#e2e2e2"}, {"offset": 0.1719, "color": "#e2e2e2"}, {"offset": 0.1719, "color": "#444444"}, {"offset": 0.1875, "color": "#444444"}, {"offset": 0.1875, "color": "#e2e2e2"}, {"offset": 0.2344, "color": "#e2e2e2"}, {"offset": 0.2344, "color": "#444444"}, {"offset": 0.25, "color": "#444444"}, {"offset": 0.25, "color": "#e2e2e2"}, {"offset": 0.2969, "color": "#e2e2e2"}, {"offset": 0.2969, "color": "#444444"}, {"offset": 0.3125, "color": "#444444"}, {"offset": 0.3125, "color": "#e2e2e2"}, {"offset": 0.3594, "color": "#e2e2e2"}, {"offset": 0.3594, "color": "#444444"}, {"offset": 0.375, "color": "#444444"}, {"offset": 0.375, "color": "#e2e2e2"}, {"offset": 0.4219, "color": "#e2e2e2"}, {"offset": 0.4219, "color": "#444444"}, {"offset": 0.4375, "color": "#444444"}, {"offset": 0.4375, "color": "#e2e2e2"}, {"offset": 0.4844, "color": "#e2e2e2"}, {"offset": 0.4844, "color": "#444444"}, {"offset": 0.5, "color": "#444444"}, {"offset": 0.5, "color": "#e2e2e2"}, {"offset": 0.5469, "color": "#e2e2e2"}, {"offset": 0.5469, "color": "#444444"}, {"offset": 0.5625, "color": "#444444"}, {"offset": 0.5625, "color": "#e2e2e2"}, {"offset": 0.6094, "color": "#e2e2e2"}, {"offset": 0.6094, "color": "#444444"}, {"offset": 0.625, "color": "#444444"}, {"offset": 0.625, "color": "#e2e2e2"}, {"offset": 0.6719, "color": "#e2e2e2"}, {"offset": 0.6719, "color": "#444444"}, {"offset": 0.6875, "color": "#444444"}, {"offset": 0.6875, "color": "#e2e2e2"}, {"offset": 0.7344, "color": "#e2e2e2"}, {"offset": 0.7344, "color": "#444444"}, {"offset": 0.75, "color": "#444444"}, {"offset": 0.75, "color": "#e2e2e2"}, {"offset": 0.7969, "color": "#e2e2e2"}, {"offset": 0.7969, "color": "#444444"}, {"offset": 0.8125, "color": "#444444"}, {"offset": 0.8125, "color": "#e2e2e2"}, {"offset": 0.8594, "color": "#e2e2e2"}, {"offset": 0.8594, "color": "#444444"}, {"offset": 0.875, "color": "#444444"}, {"offset": 0.875, "color": "#e2e2e2"}, {"offset": 0.9219, "color": "#e2e2e2"}, {"offset": 0.9219, "color": "#444444"}, {"offset": 0.9375, "color": "#444444"}, {"offset": 0.9375, "color": "#e2e2e2"}, {"offset": 0.9844, "color": "#e2e2e2"}, {"offset": 0.9844, "color": "#444444"}, {"offset": 1, "color": "#444444"}]}}},
       {"mark": {"type": "rule", "color": "#151515", "strokeWidth": 1.3}, "encoding": {"y2": {"field": "upper"}}},
       {"mark": {"type": "tick", "color": "#151515", "thickness": 1.3, "size": 10}, "encoding": {"y": {"field": "upper", "type": "quantitative"}}},
       {"transform": [{"filter": "datum.bottom !== ''"}], "mark": {"type": "text", "baseline": "bottom", "dy": -5, "fontSize": 11, "color": "#333333"}, "encoding": {"y": {"field": "upper", "type": "quantitative"}, "text": {"field": "bottom", "type": "nominal"}}}
     ]}
  ],
  "config": {
    "font": "Liberation Sans",
    "view": {"stroke": null},
    "axis": {"domainColor": "#111111", "domainWidth": 1.4, "tickColor": "#111111", "tickWidth": 1.4, "tickSize": 4, "grid": false, "labelFont": "Liberation Sans", "labelFontSize": 11, "labelFontWeight": "bold", "labelColor": "#222222", "labelPadding": 2, "titleFont": "Liberation Sans", "titleFontSize": 9, "titleFontWeight": "bold", "titleFontStyle": "italic", "titleColor": "#222222", "titlePadding": 5, "titleLineHeight": 11},
    "axisX": {"labelAngle": -45},
    "title": {"font": "Liberation Sans", "fontSize": 12.5, "fontWeight": "bold", "fontStyle": "italic", "color": "#222222", "offset": -1}
  }
}
